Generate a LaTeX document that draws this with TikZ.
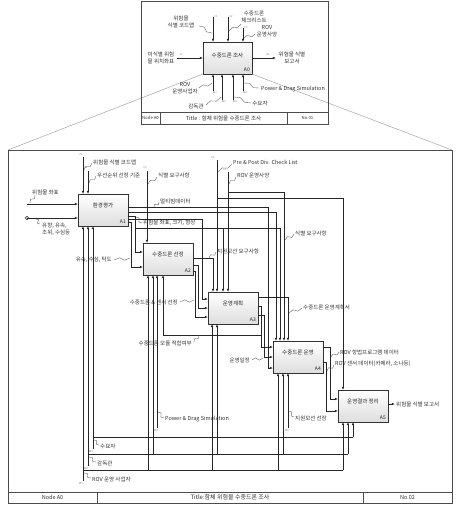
\documentclass[tikz,border=0pt]{standalone}
\usepackage{fontspec}
\setmainfont{Noto Sans CJK KR}
\usetikzlibrary{arrows.meta,calc}
\newcommand{\sqg}[2]{\draw[squig] (#1) -- ($(#1)!0.35!(#2)!1.5pt!90:(#2)$) -- ($(#1)!0.65!(#2)!1.5pt!-90:(#2)$) -- (#2);}
\begin{document}
\begin{tikzpicture}[x=1pt,y=-1pt,
 box/.style={draw=black!80, line width=0.8pt, top color=white, bottom color=black!13, minimum width=50pt, minimum height=32pt, inner sep=0pt, outer sep=0pt},
 bt/.style={font=\fontsize{5.5}{6}\selectfont, inner sep=0pt, text=black!85},
 bn/.style={font=\fontsize{5}{6}\selectfont, inner sep=0pt, anchor=south east, text=black!85},
 arr/.style={draw=black!85, line width=0.7pt, -{Latex[length=3.2pt,width=2.6pt]}},
 ln/.style={draw=black!85, line width=0.7pt},
 lbl/.style={font=\fontsize{5.5}{6.8}\selectfont, inner sep=0pt, text=black!80},
 tn/.style={font=\fontsize{2.6}{3}\selectfont, inner sep=0pt, text=black!55},
 squig/.style={draw=black!65, line width=0.35pt},
 frm/.style={draw=black!70, line width=0.9pt},
 diag/.style={draw=black!35, line width=0.5pt},
 ft/.style={font=\fontsize{5.5}{6}\selectfont, inner sep=0pt, text=black!80},
]
\useasboundingbox (0,0) rectangle (465,512);
\fill[white] (0,0) rectangle (465,512);

% ---------------- top diagram (A-0) ----------------
\node[box, minimum width=49pt] (A0) at (227.5,58) {};
\node[bt] (A0t) at (227.5,55) {수중드론 조사};
\node[bn] (A0n) at ($(A0.south east)+(-2,-2)$) {A0};

\coordinate (fnw) at (8,150);
\coordinate (fne) at (452,150);
\draw[diag] (A0.south west) -- (fnw);
\draw[diag] (A0.south east) -- (fne);

\draw[frm] (141,1) rectangle (328,124);
\draw[frm] (141,112) -- (328,112);
\draw[frm] (160,112) -- (160,124);
\draw[frm] (287,112) -- (287,124);
\node[ft, font=\fontsize{4.3}{5}\selectfont] (tnode) at (150.5,118) {Node A0};
\node[ft] (ttitle) at (223.5,118) {Title : 함체 위험물 수중드론 조사};
\node[ft, font=\fontsize{4.3}{5}\selectfont] (tno) at (307.5,118) {No.01};

\coordinate (tc1) at (213,17);
\coordinate (tc2) at (228,17);
\coordinate (tc3) at (243,28);
\draw[arr] (tc1) -- (tc1 |- A0.north);
\draw[arr] (tc2) -- (tc2 |- A0.north);
\draw[arr] (tc3) -- (tc3 |- A0.north);
\coordinate (ti1) at (177,58);
\draw[arr] (ti1) -- (A0.west);
\coordinate (to1) at (276,58);
\draw[arr] (A0.east) -- (to1);
\coordinate (tm1) at (213,91);
\coordinate (tm2) at (222,100);
\coordinate (tm3) at (233,100);
\coordinate (tm4) at (243,91);
\draw[arr] (tm1) -- (tm1 |- A0.south);
\draw[arr] (tm2) -- (tm2 |- A0.south);
\draw[arr] (tm3) -- (tm3 |- A0.south);
\draw[arr] (tm4) -- (tm4 |- A0.south);

\node[tn] (ttc1) at (216,17) {C1};
\node[tn] (ttc2) at (231,17) {C2};
\node[tn] (ttc3) at (246,28) {C3};
\node[tn] (tti1) at (181,55) {I1};
\node[tn] (tto1) at (268,55) {O1};
\node[tn] (ttm1) at (215,93) {M1};
\node[tn] (ttm2) at (224,102) {M2};
\node[tn] (ttm3) at (235,102) {M3};
\node[tn] (ttm4) at (245,93) {M4};

\node[lbl, align=center] (tl1) at (181,22) {위험물\\식별 코드맵};
\sqg{199,26}{212,33}
\node[lbl, align=center] (tl2) at (254,17) {수중드론\\체크리스트};
\sqg{241,24}{229,31}
\node[lbl, align=center] (tl3) at (267,31) {ROV\\운영사양};
\sqg{255,34}{244,38}
\node[lbl, align=center] (tl4) at (161,58) {미식별 위험\\물 위치좌표};
\node[lbl, align=center] (tl5) at (292,58) {위험물 식별\\보고서};
\node[lbl, align=center] (tl6) at (185,88) {ROV\\운영사업자};
\sqg{199,88}{212,83}
\node[lbl] (tl7) at (196,106) {감독관};
\sqg{206,105}{221,97}
\node[lbl] (tl8) at (260,103) {수요자};
\sqg{251,103}{234,97}
\node[lbl, anchor=west] (tl9) at (261,89) {Power \& Drag Simulation};
\sqg{259,88}{244,83}

% ---------------- big diagram (A0) ----------------
\draw[frm] (8,150) rectangle (452,503);
\draw[frm] (8,492) -- (452,492);
\draw[frm] (97,492) -- (97,503);
\draw[frm] (363,492) -- (363,503);
\node[ft] (bnode) at (52.5,497.5) {Node A0};
\node[ft, font=\fontsize{6}{7}\selectfont] (btitle) at (230,497.5) {Title:함체 위험물 수중드론 조사};
\node[ft] (bno) at (407.5,497.5) {No.02};

\node[box] (A1) at (103,210) {};
\node[box] (A2) at (168,259) {};
\node[box] (A3) at (233,308) {};
\node[box] (A4) at (298,357) {};
\node[box] (A5) at (363,406) {};
\node[bt] (A1t) at (103,205) {환경평가};
\node[bt] (A2t) at (168,254) {수중드론 선정};
\node[bt] (A3t) at (233,303) {운영계획};
\node[bt] (A4t) at (298,352) {수중드론 운영};
\node[bt] (A5t) at (363,401) {운영결과 정리};
\node[bn] (A1n) at ($(A1.south east)+(-2,-2)$) {A1};
\node[bn] (A2n) at ($(A2.south east)+(-2,-2)$) {A2};
\node[bn] (A3n) at ($(A3.south east)+(-2,-2)$) {A3};
\node[bn] (A4n) at ($(A4.south east)+(-2,-2)$) {A4};
\node[bn] (A5n) at ($(A5.south east)+(-2,-2)$) {A5};

% external inputs
\coordinate (i1) at (27,204);
\coordinate (i2) at (27,218);
\draw[arr] (i1) -- (i1 -| A1.west);
\draw[arr] (i2) -- (i2 -| A1.west);
\draw[ln, line width=0.5pt] (i2) circle[radius=1.8pt];

% external controls
\coordinate (c1) at (83,157);
\coordinate (c2) at (88,171);
\coordinate (c3) at (147,171);
\coordinate (c4) at (217,160);
\coordinate (c5) at (228,172);
\draw[arr] (c1) -- (c1 |- A1.north);
\draw[arr] (c2) -- (c2 |- A1.north);
\draw[arr] (c3) -- (c3 |- A2.north);
\draw[arr] (c4) -- (c4 |- A3.north);
\draw[arr] (c5) -- (c5 |- A3.north);
\coordinate (c4b) at (217,198);
\coordinate (c4e) at (343,198);
\draw[arr] (c4b) -- (c4e) -- (c4e |- A5.north);
\coordinate (c5b) at (228,192);
\coordinate (c5e) at (284,192);
\draw[arr] (c5b) -- (c5e) -- (c5e |- A4.north);

% A1 outputs
\coordinate (p1a) at (268,207);
\coordinate (p1b) at (268,368);
\draw[arr] (A1.east |- p1a) -- (p1a) -- (p1b) -- (p1b -| A4.west);
\coordinate (p2a) at (276,212);
\draw[arr] (A1.east |- p2a) -- (p2a) -- (p2a |- A4.north);
\coordinate (p3a) at (135,216);
\coordinate (p3b) at (135,252);
\draw[arr] (A1.east |- p3a) -- (p3a) -- (p3b) -- (p3b -| A2.west);
\coordinate (p3c) at (135,228);
\coordinate (p3d) at (280,228);
\coordinate (p3e) at (223,228);
\draw[ln] (p3c) -- (p3d);
\draw[arr] (p3d) -- (p3d |- A4.north);
\draw[arr] (p3e) -- (p3e |- A3.north);
\coordinate (p4a) at (202,219);
\coordinate (p4b) at (202,299);
\draw[arr] (A1.east |- p4a) -- (p4a) -- (p4b) -- (p4b -| A3.west);
\coordinate (p5a) at (131,222);
\coordinate (p5b) at (131,267);
\draw[arr] (A1.east |- p5a) -- (p5a) -- (p5b) -- (p5b -| A2.west);

% A2 outputs
\coordinate (q1a) at (213,258);
\draw[arr] (A2.east |- q1a) -- (q1a) -- (q1a |- A3.north);
\coordinate (q2a) at (198,265);
\coordinate (q2b) at (198,308);
\draw[arr] (A2.east |- q2a) -- (q2a) -- (q2b) -- (q2b -| A3.west);
\coordinate (q3a) at (195,271);
\coordinate (q3b) at (195,317);
\draw[arr] (A2.east |- q3a) -- (q3a) -- (q3b) -- (q3b -| A3.west);

% A3 outputs
\coordinate (r1a) at (288,297);
\draw[arr] (A3.east |- r1a) -- (r1a) -- (r1a |- A4.north);
\coordinate (r2a) at (261,306);
\coordinate (r2b) at (261,347);
\draw[arr] (A3.east |- r2a) -- (r2a) -- (r2b) -- (r2b -| A4.west);
\coordinate (r2c) at (261,335);
\coordinate (r2d) at (163,335);
\draw[arr] (r2c) -- (r2d) -- (r2d |- A2.south);
\coordinate (r3a) at (264,315);
\coordinate (r3b) at (264,357);
\draw[arr] (A3.east |- r3a) -- (r3a) -- (r3b) -- (r3b -| A4.west);

% A4 outputs
\coordinate (s1a) at (330,347);
\coordinate (s1b) at (330,399);
\draw[arr] (A4.east |- s1a) -- (s1a) -- (s1b) -- (s1b -| A5.west);
\coordinate (s2a) at (326,362);
\coordinate (s2b) at (326,411);
\draw[arr] (A4.east |- s2a) -- (s2a) -- (s2b) -- (s2b -| A5.west);

% A5 output
\coordinate (u1) at (395,404);
\draw[arr] (A5.east |- u1) -- (u1);

% mechanisms
\coordinate (m1) at (83,481);
\coordinate (m1h) at (83,470);
\coordinate (m1b) at (148,470);
\coordinate (m1c) at (212,470);
\coordinate (m1d) at (278,470);
\coordinate (m1e) at (343,470);
\draw[arr] (m1) -- (m1 |- A1.south);
\draw[ln] (m1h) -- (m1e);
\draw[arr] (m1b) -- (m1b |- A2.south);
\draw[arr] (m1c) -- (m1c |- A3.south);
\draw[arr] (m1d) -- (m1d |- A4.south);
\draw[arr] (m1e) -- (m1e |- A5.south);
\coordinate (m2) at (88,466);
\coordinate (m2h) at (88,454);
\coordinate (m2b) at (153,454);
\coordinate (m2c) at (217,454);
\coordinate (m2d) at (283,454);
\coordinate (m2e) at (348,454);
\draw[arr] (m2) -- (m2 |- A1.south);
\draw[ln] (m2h) -- (m2e);
\draw[arr] (m2b) -- (m2b |- A2.south);
\draw[arr] (m2c) -- (m2c |- A3.south);
\draw[arr] (m2d) -- (m2d |- A4.south);
\draw[arr] (m2e) -- (m2e |- A5.south);
\coordinate (m3) at (93,449);
\coordinate (m3h) at (93,437);
\coordinate (m3e) at (353,437);
\draw[arr] (m3) -- (m3 |- A1.south);
\draw[ln] (m3h) -- (m3e);
\draw[arr] (m3e) -- (m3e |- A5.south);
\coordinate (m4) at (157,428);
\draw[arr] (m4) -- (m4 |- A2.south);
\coordinate (m5) at (288,428);
\draw[arr] (m5) -- (m5 |- A4.south);

% tiny ICOM codes
\node[tn] (bc1) at (81,155) {C1};
\node[tn] (bc2) at (86,168) {C2};
\node[tn] (bc3) at (145,168) {C3};
\node[tn] (bc4) at (213,158) {C2};
\node[tn] (bc5) at (225,170) {C4};
\node[tn] (bm1) at (81,484) {M1};
\node[tn] (bm2) at (86,469) {M2};
\node[tn] (bm3) at (91,452) {M3};
\node[tn] (bm4) at (156,431) {M4};
\node[tn] (bm5) at (287,431) {M5};

% labels
\node[lbl, anchor=west] (l1) at (93,162) {위험물 식별 코드맵};
\sqg{92,163}{84,170}
\node[lbl, anchor=west] (l2) at (97,175) {우선순위 선정 기준};
\sqg{96,176}{89,183}
\node[lbl, anchor=west] (l3) at (158,175) {식별 요구사항};
\sqg{157,177}{148,184}
\node[lbl, anchor=west] (l4) at (233,162) {Pre \& Post Div. Check List};
\sqg{232,164}{218,172}
\node[lbl, anchor=west] (l5) at (237,175) {ROV 운영사양};
\sqg{236,177}{229,184}
\node[lbl, anchor=west] (l6) at (32,192) {위험물 좌표};
\sqg{35,195}{30,203}
\node[lbl, anchor=west, align=left] (l7) at (42,229) {유향, 유속,\\조위, 수심등};
\sqg{40,224}{36,219}
\node[lbl, anchor=west] (l8) at (160,201) {멀티빔데이터};
\sqg{159,202}{154,207}
\node[lbl, anchor=west] (l9) at (143,223) {위험물 좌표, 크기, 형상};
\sqg{142,223}{136,217}
\node[lbl, anchor=east] (l10) at (112,260) {유속, 수심, 탁도};
\sqg{114,260}{130,258}
\node[lbl, anchor=west] (l11) at (217,251) {지원모선 요구사항};
\sqg{216,252}{209,258}
\node[lbl, anchor=west] (l12) at (295,233) {식별 요구사항};
\sqg{294,234}{285,240}
\node[lbl, anchor=east] (l13) at (178,302) {수중드론 \& 센서 선정};
\sqg{180,302}{194,300}
\node[lbl, anchor=west] (l14) at (303,307) {수중드론 운영계획서};
\sqg{302,308}{289,313}
\node[lbl, anchor=east] (l15) at (192,343) {수중드론 모듈 적합여부};
\sqg{194,342}{199,335}
\node[lbl, anchor=east] (l16) at (250,360) {운영일정};
\sqg{252,360}{263,358}
\node[lbl, anchor=west] (l17) at (340,352) {ROV 항법프로그램 데이터};
\sqg{339,352}{331,357}
\node[lbl, anchor=west] (l18) at (335,364) {ROV 센서 데이터(카메라, 소나등)};
\sqg{334,365}{327,371}
\node[lbl, anchor=west] (l19) at (396,404) {위험물 식별 보고서};
\node[lbl, anchor=west] (l20) at (165,419) {Power \& Drag Simulation};
\sqg{164,418}{158,412}
\node[lbl, anchor=west] (l21) at (295,418) {지원모선 선장};
\sqg{294,417}{289,411}
\node[lbl, anchor=west] (l22) at (100,446) {수요자};
\sqg{99,445}{94,440}
\node[lbl, anchor=west] (l23) at (97,463) {감독관};
\sqg{96,462}{89,457}
\node[lbl, anchor=west] (l24) at (92,479) {ROV 운영 사업자};
\sqg{91,478}{84,473}
\end{tikzpicture}
\end{document}
